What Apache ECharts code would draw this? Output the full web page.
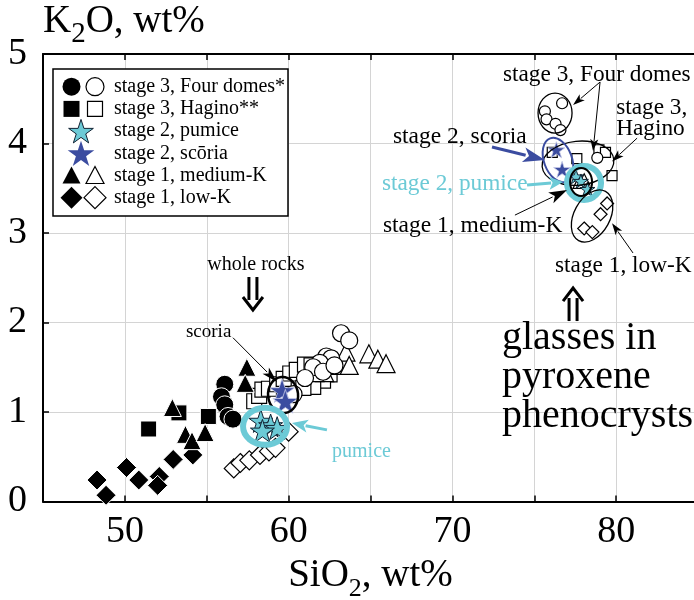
<!DOCTYPE html>
<html>
<head>
<meta charset="utf-8">
<script src="https://cdn.jsdelivr.net/npm/echarts@6/dist/echarts.min.js"></script>
</head>
<body style="margin:0">
<div id="main" style="width:694px;height:600px"></div>
<script>
// whole-rock analyses [SiO2, K2O]
var wrFourDomesFilled = [[56.1,1.31],[55.9,1.17],[56.1,1.08],[56.3,0.95],[56.6,0.92]];
var wrFourDomesOpen = [[63.2,1.88],[63.7,1.80],[62.3,1.62],[62.6,1.60],[61.9,1.55],[61.5,1.50],[62.1,1.45],[61.0,1.38],[60.3,1.20],[62.8,1.52]];
var wrHaginoFilled = [[51.45,0.81],[53.3,0.99],[55.1,0.95]];
var wrHaginoOpen = [[57.9,1.12],[58.2,1.18],[58.4,1.25],[58.8,1.26],[59.3,1.31],[59.7,1.37],[60.1,1.43],[60.5,1.47],[61.0,1.53],[61.4,1.52],[62.0,1.47],[62.5,1.42],[62.1,1.35],[61.5,1.28],[60.9,1.27]];
var wrPumice = [[58.3,0.90],[58.9,0.85],[59.3,0.82],[58.4,0.79]];
var wrScoria = [[59.6,1.24],[59.8,1.12]];
var wrMediumKFilled = [[52.9,1.05],[53.7,0.75],[54.1,0.68],[54.9,0.77],[57.45,1.50],[57.35,1.32]];
var wrMediumKOpen = [[63.5,1.67],[64.9,1.65],[65.45,1.59],[65.95,1.54],[62.95,1.52],[62.2,1.44],[61.6,1.44],[63.7,1.52]];
var wrLowKFilled = [[48.3,0.24],[48.85,0.07],[50.1,0.38],[50.85,0.24],[52.1,0.28],[52.0,0.18],[52.95,0.47],[54.15,0.52]];
var wrLowKOpen = [[56.65,0.37],[57.05,0.43],[57.6,0.46],[58.25,0.52],[58.8,0.56],[59.2,0.60],[60.0,0.78]];

// glasses in pyroxene phenocrysts
var glFourDomes = [[76.7,4.45],[75.65,4.36],[75.75,4.27],[76.3,4.22],[76.6,4.15],[78.85,3.84]];
var glHagino = [[76.1,3.9],[77.6,3.83],[78.95,3.93],[79.35,3.9],[79.75,3.64]];
var glPumice = [[77.55,3.63],[77.85,3.58],[78.25,3.49]];
var glScoria = [[76.35,3.93],[76.7,3.71]];
var glMediumK = [[77.7,3.56],[78.05,3.6]];
var glLowK = [[79.45,3.33],[79.05,3.21],[78.05,3.05],[78.55,3.01]];

var legendLabels = ['stage 3, Four domes*', 'stage 3, Hagino**', 'stage 2, pumice', 'stage 2, scōria', 'stage 1, medium-K', 'stage 1, low-K'];
var xLabels = [50, 60, 70, 80];

var FONT = "'Liberation Serif', 'Times New Roman', serif";
var CYAN = '#6ccad6';
var BLUE = '#3b4ca0';
var STAR = 'path://M50 0L61.23 34.55L97.55 34.55L68.17 55.9L79.39 90.45L50 69.1L20.61 90.45L31.83 55.9L2.45 34.55L38.77 34.55Z';

var filled = {color: '#000', borderColor: '#fff', borderWidth: 1, opacity: 1};
var open = {color: '#fff', borderColor: '#000', borderWidth: 1.2, opacity: 1};
var pumiceStyle = {color: CYAN, borderColor: '#123', borderWidth: 1, opacity: 1};
var scoriaStyle = {color: BLUE, borderColor: '#c8cce8', borderWidth: 0.8, opacity: 1};

function sc(data, symbol, size, style) {
  return {type: 'scatter', data: data, symbol: symbol, symbolSize: size, symbolKeepAspect: true,
    itemStyle: style, silent: true, emphasis: {disabled: true}};
}

var chart = echarts.init(document.getElementById('main'));
chart.setOption({
  animation: false,
  backgroundColor: '#fff',
  grid: {left: 43, top: 54, width: 655, height: 447.5, outerBoundsMode: 'none', containLabel: false},
  xAxis: [{
    type: 'value', min: 45, max: 85, interval: 5,
    axisLine: {lineStyle: {color: '#000', width: 2}},
    axisTick: {inside: true, length: 6, lineStyle: {color: '#000', width: 1.5}},
    splitLine: {lineStyle: {color: '#d4d4d4', width: 1}},
    axisLabel: {margin: 12, color: '#000', fontSize: 38, fontFamily: FONT,
      formatter: function (v) { return xLabels.indexOf(v) >= 0 ? String(v) : ''; }},
    name: '{m|SiO}{s|2}{m|, wt%}', nameLocation: 'middle', nameGap: 46,
    nameTextStyle: {rich: {
      m: {fontSize: 39, fontFamily: FONT, color: '#000'},
      s: {fontSize: 26, fontFamily: FONT, color: '#000', padding: [26, 0, 0, 0]}
    }}
  }, {
    type: 'value', min: 45, max: 85, interval: 5, position: 'top',
    axisLine: {lineStyle: {color: '#000', width: 2}},
    axisTick: {inside: true, length: 6, lineStyle: {color: '#000', width: 1.5}},
    axisLabel: {show: false}, splitLine: {show: false}
  }],
  yAxis: {
    type: 'value', min: 0, max: 5, interval: 1,
    axisLine: {show: true, lineStyle: {color: '#000', width: 2}},
    axisTick: {show: true, inside: true, length: 6, lineStyle: {color: '#000', width: 1.5}},
    splitLine: {lineStyle: {color: '#d4d4d4', width: 1}},
    axisLabel: {margin: 16, color: '#000', fontSize: 38, fontFamily: FONT},
    name: '{m|K}{s|2}{m|O, wt%}', nameLocation: 'end', nameGap: 5,
    nameTextStyle: {align: 'left', verticalAlign: 'bottom', rich: {
      m: {fontSize: 39, fontFamily: FONT, color: '#000'},
      s: {fontSize: 29, fontFamily: FONT, color: '#000', padding: [26, 0, 0, 0]}
    }}
  },
  series: [
    sc(wrHaginoOpen, 'rect', 15, open),
    sc(wrLowKOpen, 'diamond', 19, open),
    sc(wrMediumKOpen, 'triangle', 18, open),
    sc(wrFourDomesOpen, 'circle', 17, open),
    sc(wrHaginoFilled, 'rect', 16, filled),
    sc(wrLowKFilled, 'diamond', 20, filled),
    sc(wrMediumKFilled, 'triangle', 18, filled),
    sc(wrFourDomesFilled, 'circle', 18, filled),
    sc(wrPumice, STAR, 24, pumiceStyle),
    sc(wrScoria, STAR, 25, scoriaStyle),
    sc(glHagino, 'rect', 10, open),
    sc(glLowK, 'diamond', 13, open),
    sc(glFourDomes, 'circle', 11, open),
    sc(glMediumK, 'triangle', 11, open),
    sc(glPumice, STAR, 15, pumiceStyle),
    sc(glScoria, STAR, 17, scoriaStyle)
  ]
});

// annotation anchors in data coordinates
var P = function (x, y) { return chart.convertToPixel({gridIndex: 0}, [x, y]); };
var g = [];
var Z = 50;

function ell(c, rx, ry, rot, color, lw) {
  g.push({type: 'ellipse', x: c[0], y: c[1], rotation: rot || 0, shape: {cx: 0, cy: 0, rx: rx, ry: ry},
    style: {fill: null, stroke: color, lineWidth: lw}, z: Z, silent: true});
}
function arrow(p0, p1, color, lw, hl, hw) {
  var dx = p1[0] - p0[0], dy = p1[1] - p0[1], L = Math.sqrt(dx * dx + dy * dy);
  var ux = dx / L, uy = dy / L, bx = p1[0] - ux * hl, by = p1[1] - uy * hl;
  g.push({type: 'line', shape: {x1: p0[0], y1: p0[1], x2: bx + ux * 2, y2: by + uy * 2},
    style: {stroke: color, lineWidth: lw}, z: Z, silent: true});
  g.push({type: 'polygon', shape: {points: [[p1[0], p1[1]], [bx - uy * hw / 2, by + ux * hw / 2],
    [bx + ux * hl * 0.25, by + uy * hl * 0.25], [bx + uy * hw / 2, by - ux * hw / 2]]},
    style: {fill: color}, z: Z, silent: true});
}
function label(p, text, size, color, align) {
  g.push({type: 'text', x: p[0], y: p[1], z: Z, silent: true,
    style: {text: text, fill: color || '#000', font: size + 'px ' + FONT,
      align: align || 'left', verticalAlign: 'middle', lineHeight: size}});
}
function dbl(p, dir) {
  // double arrow: p = head tip, dir = -1 points down, +1 points up
  var x = p[0], y = p[1], s = dir;
  g.push({type: 'polyline', shape: {points: [[x - 4, y + s * 10], [x - 4, y + s * 33]]}, style: {stroke: '#000', lineWidth: 3}, z: Z});
  g.push({type: 'polyline', shape: {points: [[x + 4, y + s * 10], [x + 4, y + s * 33]]}, style: {stroke: '#000', lineWidth: 3}, z: Z});
  g.push({type: 'polyline', shape: {points: [[x - 10, y + s * 13], [x, y], [x + 10, y + s * 13]]}, style: {stroke: '#000', lineWidth: 3}, z: Z});
}

// whole rocks side
label(P(58.0, 2.65), 'whole rocks', 20, '#000', 'center');
dbl(P(57.82, 2.14), -1);
label(P(56.5, 1.89), 'scoria', 19, '#000', 'right');
arrow(P(56.6, 1.83), P(59.29, 1.335), '#000', 1, 16, 9);
ell(P(59.66, 1.19), 15, 18, 0.1, '#000', 2.5);
ell(P(58.56, 0.84), 22, 18.5, 0, CYAN, 6);
arrow(P(62.34, 0.80), P(60.2, 0.877), CYAN, 3, 16, 13);
label(P(62.65, 0.553), 'pumice', 20, CYAN);

// glasses side
ell(P(76.27, 4.34), 17, 20, 0, '#000', 1.3);
label(P(73.09, 4.765), 'stage 3, Four domes', 23.3);
arrow(P(79.02, 4.687), P(77.37, 4.43), '#000', 1, 12, 8);
arrow(P(79.02, 4.687), P(78.59, 3.916), '#000', 1, 12, 8);
ell(P(77.67, 3.78), 36, 22, 0.1, '#000', 1.3);
label(P(80.0, 4.397), 'stage 3,', 23.3);
label(P(80.0, 4.162), 'Hagino', 23.3);
arrow(P(81.28, 4.06), P(79.75, 3.80), '#000', 1, 12, 8);
ell(P(76.45, 3.816), 14, 23, 0.35, BLUE, 2);
label(P(66.37, 4.07), 'stage 2, scoria', 23.5);
arrow(P(72.42, 3.96), P(75.66, 3.816), BLUE, 3, 22, 15);
ell(P(78.04, 3.559), 17, 17, 0, CYAN, 6);
ell(P(77.86, 3.57), 11, 14, 0, '#000', 2);
label(P(65.7, 3.547), 'stage 2, pumice', 23.3, CYAN);
arrow(P(74.56, 3.536), P(76.76, 3.57), CYAN, 3, 14, 13);
label(P(65.76, 3.078), 'stage 1, medium-K', 23.5);
arrow(P(73.82, 3.20), P(77.0, 3.48), '#000', 1, 18, 12);
ell(P(78.53, 3.19), 18, 28, -0.5, '#000', 1.3);
label(P(76.27, 2.631), 'stage 1, low-K', 23.3);
arrow(P(81.03, 2.777), P(79.75, 3.11), '#000', 1, 12, 8);
dbl(P(77.37, 2.385), 1);
g.push({type: 'text', x: P(73.03, 1.39)[0], y: P(73.03, 1.39)[1], z: Z,
  style: {text: 'glasses in\npyroxene\nphenocrysts', fill: '#000', font: '40px ' + FONT,
    lineHeight: 39, align: 'left', verticalAlign: 'middle'}});

// legend box
var LX = 53, LY = 69, LW = 235, LH = 147;
g.push({type: 'rect', shape: {x: LX, y: LY, width: LW, height: LH}, style: {fill: '#fff', stroke: '#000', lineWidth: 1.5}, z: Z});
function starPts(cx, cy, R) {
  var pts = [];
  for (var i = 0; i < 10; i++) {
    var r = i % 2 ? R * 0.382 : R, a = -Math.PI / 2 + i * Math.PI / 5;
    pts.push([cx + r * Math.cos(a), cy + r * Math.sin(a) + R * 0.1]);
  }
  return pts;
}
var fillS = {fill: '#000'}, openS = {fill: '#fff', stroke: '#000', lineWidth: 1.2};
var c1 = 71.5, c2 = 95;
legendLabels.forEach(function (t, i) {
  var y = 86.7 + i * 22.2;
  if (i === 0) {
    g.push({type: 'circle', shape: {cx: c1, cy: y, r: 9}, style: fillS, z: Z + 1});
    g.push({type: 'circle', shape: {cx: c2, cy: y, r: 9}, style: openS, z: Z + 1});
  } else if (i === 1) {
    g.push({type: 'rect', shape: {x: c1 - 8, y: y - 8, width: 16, height: 16}, style: fillS, z: Z + 1});
    g.push({type: 'rect', shape: {x: c2 - 7.5, y: y - 7.5, width: 15, height: 15}, style: openS, z: Z + 1});
  } else if (i === 2) {
    g.push({type: 'polygon', shape: {points: starPts(81, y, 13)}, style: {fill: CYAN, stroke: '#123', lineWidth: 1}, z: Z + 1});
  } else if (i === 3) {
    g.push({type: 'polygon', shape: {points: starPts(81, y, 14)}, style: {fill: BLUE}, z: Z + 1});
  } else if (i === 4) {
    g.push({type: 'polygon', shape: {points: [[c1, y - 9], [c1 + 9, y + 8], [c1 - 9, y + 8]]}, style: fillS, z: Z + 1});
    g.push({type: 'polygon', shape: {points: [[c2, y - 9], [c2 + 9, y + 8], [c2 - 9, y + 8]]}, style: openS, z: Z + 1});
  } else {
    g.push({type: 'polygon', shape: {points: [[c1, y - 11], [c1 + 11, y], [c1, y + 11], [c1 - 11, y]]}, style: fillS, z: Z + 1});
    g.push({type: 'polygon', shape: {points: [[c2, y - 11], [c2 + 11, y], [c2, y + 11], [c2 - 11, y]]}, style: openS, z: Z + 1});
  }
  g.push({type: 'text', x: 114, y: y, z: Z + 1,
    style: {text: t, fill: '#000', font: '20px ' + FONT, align: 'left', verticalAlign: 'middle'}});
});

chart.setOption({graphic: {elements: g}});
</script>
</body>
</html>
